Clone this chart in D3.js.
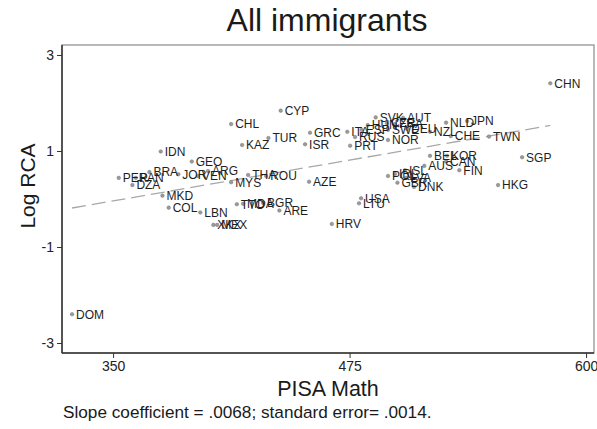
<!DOCTYPE html>
<html><head><meta charset="utf-8">
<script src="https://cdn.jsdelivr.net/npm/d3@7"></script>
<style>body{margin:0;background:#fff}svg{display:block}text{font-family:"Liberation Sans",Arial,Helvetica,sans-serif}</style>
</head><body>
<script>
const countries = ["CHN","CYP","CHL","TUR","KAZ","GRC","ISR","ITA","RUS","PRT","NOR","SVK","AUT","HUN","ESP","CZE","FRA","SWE","DEU","NZL","NLD","JPN","CHE","TWN","BEL","KOR","CAN","AUS","FIN","SGP","HKG","POL","IRL","ISL","LVA","GBR","DNK","USA","LTU","HRV","AZE","THA","ROU","MYS","ARG","JOR","VEN","GEO","IDN","BRA","PER","PAN","DZA","MKD","COL","LBN","XKX","MEX","TTO","MDA","BGR","ARE","DOM"];
const pisaMath = [581.1,438.6,412.4,432.1,418.2,454.1,451.5,473.8,477.9,475.3,495.3,488.8,503.3,484.6,481.4,494.8,499.0,495.3,505.4,517.5,526.0,537.1,528.5,548.7,517.5,526.5,526.0,514.5,533.0,566.2,553.5,495.3,499.0,504.3,504.9,500.3,509.1,481.1,480.0,465.6,453.6,421.4,430.9,412.4,400.2,384.5,394.9,391.6,375.2,369.2,353.0,362.0,360.2,376.1,379.4,396.1,403.0,405.0,415.4,418.7,429.3,437.9,328.3];
const logRCA = [2.41,1.84,1.56,1.27,1.125,1.38,1.14,1.40,1.29,1.11,1.23,1.70,1.69,1.54,1.44,1.58,1.56,1.44,1.46,1.40,1.59,1.625,1.31,1.30,0.90,0.90,0.78,0.69,0.60,0.87,0.29,0.48,0.52,0.60,0.44,0.34,0.25,0.015,-0.09,-0.52,0.36,0.50,0.48,0.35,0.58,0.515,0.48,0.78,0.99,0.56,0.44,0.44,0.29,0.07,-0.18,-0.28,-0.54,-0.54,-0.11,-0.10,-0.08,-0.24,-2.40];
const xTicks = [350,475,600];
const yTicks = [-3,-1,1,3];
const slope = 0.0068, intercept = -2.42;
const titleText = "All immigrants";
const xTitle = "PISA Math", yTitle = "Log RCA";
const note = "Slope coefficient = .0068; standard error= .0014.";

const W = 597, H = 429;
const L = 62, R = 594, T = 45, B = 353;
const svg = d3.select("body").append("svg").attr("width", W).attr("height", H);
const x = d3.scaleLinear().domain([323.0, 604.2]).range([L, R]);
const y = d3.scaleLinear().domain([-3.208, 3.208]).range([B, T]);

svg.append("rect").attr("x", L).attr("y", T).attr("width", R - L).attr("height", B - T)
  .attr("fill", "none").attr("stroke", "#8a8a8a").attr("stroke-width", 1.2);

const xAxis = svg.append("g").attr("transform", `translate(0,${B})`)
  .call(d3.axisBottom(x).tickValues(xTicks).tickSize(5).tickPadding(3).tickFormat(d3.format("d")));
const yAxis = svg.append("g").attr("transform", `translate(${L},0)`)
  .call(d3.axisLeft(y).tickValues(yTicks).tickSize(5).tickPadding(3).tickFormat(d => d));
[xAxis, yAxis].forEach(g => {
  g.select(".domain").attr("stroke", "#333").attr("stroke-width", 1.5);
  g.selectAll(".tick line").attr("stroke", "#333").attr("stroke-width", 1);
  g.selectAll(".tick text").attr("fill", "#222").style("font-size", "14px")
    .style("font-family", '"Liberation Sans",Arial,sans-serif');
});
yAxis.select(".domain").attr("d", `M0,${T}V${B}`);
xAxis.select(".domain").attr("d", `M${L},0H${R}`);

const xmin = d3.min(pisaMath), xmax = d3.max(pisaMath);
svg.append("line")
  .attr("x1", x(xmin)).attr("y1", y(intercept + slope * xmin))
  .attr("x2", x(xmax)).attr("y2", y(intercept + slope * xmax))
  .attr("stroke", "#a8a8a8").attr("stroke-width", 1.3).attr("stroke-dasharray", "14,6");

const data = countries.map((c, i) => ({c, x: pisaMath[i], y: logRCA[i]}));
const g = svg.append("g");
g.selectAll("circle").data(data).join("circle")
  .attr("cx", d => x(d.x)).attr("cy", d => y(d.y)).attr("r", 1.8)
  .attr("fill", "#9a9a9a").attr("stroke", "#7a7a7a").attr("stroke-width", 0.5);
g.selectAll("text").data(data).join("text")
  .attr("x", d => x(d.x) + 4).attr("y", d => y(d.y)).attr("dy", "0.36em")
  .style("font-size", "12px").attr("fill", "#1e1e1e").text(d => d.c);

svg.append("text").attr("x", 327).attr("y", 31).attr("text-anchor", "middle")
  .style("font-size", "32px").attr("fill", "#1a1a1a").text(titleText);
svg.append("text").attr("x", 328).attr("y", 396).attr("text-anchor", "middle")
  .style("font-size", "21.5px").attr("fill", "#1a1a1a").text(xTitle);
svg.append("text").attr("transform", `translate(35,186) rotate(-90)`).attr("text-anchor", "middle")
  .style("font-size", "21px").attr("fill", "#1a1a1a").text(yTitle);
svg.append("text").attr("x", 63).attr("y", 418)
  .style("font-size", "17.2px").attr("fill", "#1a1a1a").text(note);
</script>
</body></html>
